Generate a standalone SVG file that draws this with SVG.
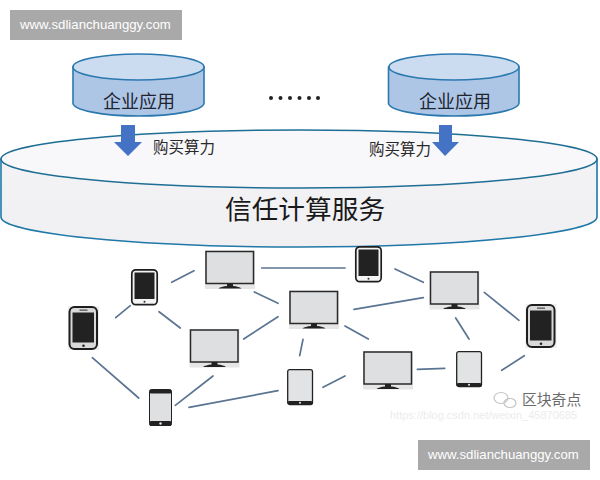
<svg xmlns="http://www.w3.org/2000/svg" xmlns:xlink="http://www.w3.org/1999/xlink" width="600" height="480" viewBox="0 0 600 480">
<style>
.cjk{font-family:"Noto Sans CJK SC","Liberation Sans",sans-serif}
.wm{font-family:"Liberation Sans",Arial,sans-serif;font-size:13.200px;fill:#fff}
.lbl{font-size:18px;fill:#1f2530}
.buy{font-size:15.500px;fill:#2a2a2a}
.link{stroke:#5a7492;stroke-width:1.700;fill:none;stroke-linecap:round}
.cyl-side{fill:#aec6e6;stroke:#2b78ae;stroke-width:1.600}
.cyl-top{fill:#cbdcf0;stroke:#2b78ae;stroke-width:1.600}
.arrow{fill:#4472c4}
.big-side{fill:url(#bigSide);stroke:#1f78a8;stroke-width:1.600}
.big-top{fill:#f8f8fa;stroke:#1f6f95;stroke-width:1.600}
</style>
<defs>
<linearGradient id="bigSide" x1="0" y1="0" x2="0" y2="1"><stop offset="0" stop-color="#f3f3f5"/><stop offset="1" stop-color="#f0f0f2"/></linearGradient>
<g id="monitor">
<rect x="0" y="0" width="50" height="38.500" fill="#e6e6e6"/>
<rect x="1" y="1" width="47.500" height="32" fill="#dedfe1" stroke="#2a2a2a" stroke-width="1.500"/>
<path d="M22 33h6v2.500q6 .5 8.500 2.500h-23q2.500-2 8.500-2.500z" fill="#222"/>
</g>
<g id="darkTablet">
<rect x="0.800" y="0.800" width="25.400" height="34.900" rx="4" fill="#f4f4f4" stroke="#1e1e1e" stroke-width="1.700"/>
<rect x="3.500" y="3.500" width="20" height="26.500" fill="#222"/>
<circle cx="13.500" cy="32.800" r="1" fill="#333"/>
</g>
<g id="bigPhone">
<rect x="0" y="0" width="31" height="44" fill="#eeeeee"/>
<rect x="1.500" y="1" width="27.500" height="42" rx="5" fill="#d9d9d9" stroke="#1e1e1e" stroke-width="2"/>
<rect x="4.500" y="6.500" width="21.500" height="30" fill="#222"/>
<rect x="11.500" y="3.500" width="8" height="1.300" fill="#555"/>
<circle cx="15.500" cy="39.800" r="1.300" fill="#222"/>
</g>
<g id="smallPhone">
<rect x="0.500" y="0.500" width="22" height="36" rx="2" fill="#dfe0e2" stroke="#222" stroke-width="1"/>
<rect x="0.500" y="0.500" width="22" height="4" rx="1.500" fill="#222"/>
<rect x="0.500" y="32" width="22" height="5" rx="1.500" fill="#222"/>
<circle cx="11.500" cy="34.500" r="1.200" fill="#eee"/>
</g>
<g id="lightTablet">
<rect x="0.700" y="0.700" width="24.800" height="34.800" rx="2" fill="#e2e3e5" stroke="#222" stroke-width="1.300"/>
<rect x="0.700" y="32" width="24.800" height="3.600" rx="1.500" fill="#222"/>
<circle cx="13" cy="33.800" r="1" fill="#eee"/>
</g>
</defs>
<rect width="600" height="480" fill="#fff"/>

<g id="watermark-top">
<rect x="10" y="10" width="172" height="30" fill="#a9a9a9"/>
<text class="wm" x="20" y="28.500">www.sdlianchuanggy.com</text>
</g>

<g id="trust-service">
<path class="big-side" d="M1 159V217C1 233 134 247 299 247S597 233 597 217V159Z"/>
<ellipse class="big-top" cx="299" cy="159" rx="298" ry="29"/>
<text class="cjk" x="225" y="219" font-size="26.700" fill="#1a1a1a">信任计算服务</text>
</g>

<g id="app-left">
<path class="cyl-side" d="M73 67V103C73 110 102 116 138.500 116S204 110 204 103V67Z"/>
<ellipse class="cyl-top" cx="138.500" cy="67" rx="65.500" ry="13"/>
<text class="cjk lbl" x="103" y="108">企业应用</text>
</g>
<g id="app-right">
<path class="cyl-side" d="M388.500 67V103C388.500 110 417 116 454 116S519 110 519 103V67Z"/>
<ellipse class="cyl-top" cx="454" cy="67" rx="65" ry="13"/>
<text class="cjk lbl" x="419" y="108">企业应用</text>
</g>

<g id="buy-left">
<path class="arrow" d="M121 125h14v17h7l-14 14-14-14h7z"/>
<text class="cjk buy" x="153" y="153">购买算力</text>
</g>
<g id="buy-right">
<path class="arrow" d="M439 125h13v17h7l-14 14-13-14h7z"/>
<text class="cjk buy" x="369" y="155">购买算力</text>
</g>

<g id="ellipsis" fill="#222">
<circle cx="271" cy="98" r="2"/><circle cx="280.500" cy="98" r="2"/><circle cx="290" cy="98" r="2"/><circle cx="299.500" cy="98" r="2"/><circle cx="309" cy="98" r="2"/><circle cx="318" cy="98" r="2"/>
</g>

<g id="connectors">
<line class="link" x1="171.700" y1="282.300" x2="194" y2="270.700"/>
<line class="link" x1="115.700" y1="317.700" x2="130.300" y2="305.700"/>
<line class="link" x1="159" y1="311.700" x2="180.300" y2="328"/>
<line class="link" x1="261.700" y1="268" x2="345" y2="268"/>
<line class="link" x1="254.300" y1="292" x2="278" y2="303.300"/>
<line class="link" x1="243.700" y1="339" x2="278" y2="316.700"/>
<line class="link" x1="303" y1="339.300" x2="299.700" y2="355.700"/>
<line class="link" x1="92.300" y1="357.700" x2="138.700" y2="398"/>
<line class="link" x1="213" y1="376" x2="175.300" y2="405.300"/>
<line class="link" x1="189" y1="407.300" x2="278" y2="390.700"/>
<line class="link" x1="395" y1="269" x2="423.300" y2="282.300"/>
<line class="link" x1="354" y1="309.300" x2="423.300" y2="297.700"/>
<line class="link" x1="484.300" y1="292.300" x2="519" y2="320.300"/>
<line class="link" x1="455.700" y1="318" x2="469" y2="339"/>
<line class="link" x1="345" y1="326" x2="368.300" y2="339"/>
<line class="link" x1="417.300" y1="369.300" x2="444.700" y2="368.300"/>
<line class="link" x1="501.700" y1="370.300" x2="524.300" y2="355.700"/>
<line class="link" x1="323" y1="387.300" x2="345" y2="376"/>
</g>

<g id="device-monitor-1"><use xlink:href="#monitor" href="#monitor" x="205" y="250.500"/></g>
<g id="device-monitor-2"><use xlink:href="#monitor" href="#monitor" x="289" y="290.500"/></g>
<g id="device-monitor-3"><use xlink:href="#monitor" href="#monitor" x="189.500" y="329"/></g>
<g id="device-monitor-4"><use xlink:href="#monitor" href="#monitor" x="429.500" y="271"/></g>
<g id="device-monitor-5"><use xlink:href="#monitor" href="#monitor" x="363" y="351"/></g>
<g id="device-tablet-1"><use xlink:href="#darkTablet" href="#darkTablet" x="131" y="269"/></g>
<g id="device-tablet-2"><use xlink:href="#darkTablet" href="#darkTablet" x="355" y="246"/></g>
<g id="device-phone-1"><use xlink:href="#bigPhone" href="#bigPhone" x="68" y="306"/></g>
<g id="device-phone-2"><use xlink:href="#bigPhone" href="#bigPhone" x="525.500" y="304"/></g>
<g id="device-phone-3"><use xlink:href="#smallPhone" href="#smallPhone" x="149" y="389"/></g>
<g id="device-tablet-3"><use xlink:href="#lightTablet" href="#lightTablet" x="287" y="369"/></g>
<g id="device-tablet-4"><use xlink:href="#lightTablet" href="#lightTablet" x="456" y="351"/></g>

<g id="credit">
<g fill="none" stroke="#c4c4c4" stroke-width="1.200">
<ellipse cx="501" cy="398" rx="7" ry="5.500"/>
<ellipse cx="510" cy="403" rx="6" ry="4.500"/>
</g>
<text class="cjk" x="522" y="405" font-size="14.800" fill="#6a6a6a">区块奇点</text>
<text x="390" y="419" font-family="Liberation Sans,sans-serif" font-size="11" fill="#ececec">https://blog.csdn.net/weixin_45870685</text>
</g>

<g id="watermark-bottom">
<rect x="418" y="440" width="172" height="30" fill="#a9a9a9"/>
<text class="wm" x="428" y="458.500">www.sdlianchuanggy.com</text>
</g>
</svg>
